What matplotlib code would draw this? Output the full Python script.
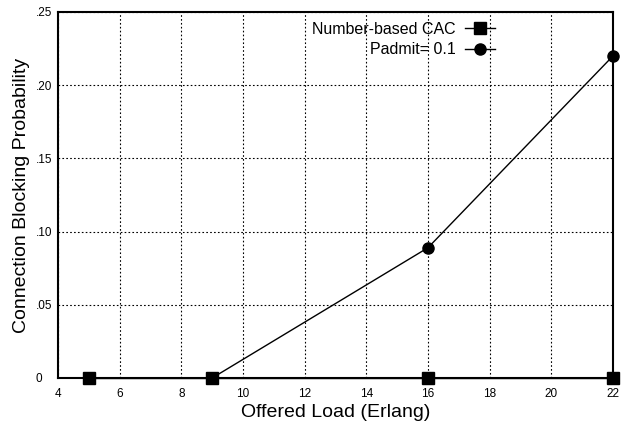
import matplotlib

matplotlib.use("Agg")

import matplotlib.pyplot as plt  # noqa: E402
from matplotlib.ticker import FuncFormatter  # noqa: E402

plt.rcParams["font.family"] = ["Liberation Sans", "DejaVu Sans"]

load = [5, 9, 16, 22]
cac_block = [0.0, 0.0, 0.0, 0.0]
padmit_block = [0.0, 0.0, 0.089, 0.22]

x_ticks = [4, 6, 8, 10, 12, 14, 16, 18, 20, 22]
y_ticks = [0, 0.05, 0.10, 0.15, 0.20, 0.25]


def frac_label(v, _pos):
    if v == 0:
        return "0"
    return f"{v:.2f}".lstrip("0")


fig = plt.figure(figsize=(6.32, 4.24), dpi=100)
ax = fig.add_axes([58 / 632, 46 / 424, 555 / 632, 366 / 424])

ax.plot(load, padmit_block, color="black", lw=1, marker="o", ms=8,
        label="Padmit= 0.1", zorder=3, clip_on=False)
ax.plot(load, cac_block, color="black", lw=1, marker="s", ms=8,
        label="Number-based CAC", zorder=4, clip_on=False)

ax.set_xlim(4, 22)
ax.set_ylim(0, 0.25)
ax.set_xticks(x_ticks)
ax.set_yticks(y_ticks)
ax.yaxis.set_major_formatter(FuncFormatter(frac_label))
ax.tick_params(length=0, labelsize=8.5)
ax.tick_params(axis="x", pad=7)
ax.tick_params(axis="y", pad=16)
for t in ax.get_yticklabels():
    t.set_horizontalalignment("left")
ax.grid(True, color="black", ls=(0, (1.5, 2)), lw=0.8)
for s in ax.spines.values():
    s.set_linewidth(1.5)

ax.set_xlabel("Offered Load (Erlang)", fontsize=14, labelpad=3)
ax.set_ylabel("Connection Blocking Probability", fontsize=14, labelpad=4)

handles, labels = ax.get_legend_handles_labels()
ax.legend(handles[::-1], labels[::-1], loc="upper left", bbox_to_anchor=(0.44, 1.0),
          frameon=False, markerfirst=False, fontsize=11.5, handlelength=1.9,
          labelspacing=0.35, borderaxespad=0.2, handletextpad=0.6)

fig.savefig("out.png", dpi=100)
